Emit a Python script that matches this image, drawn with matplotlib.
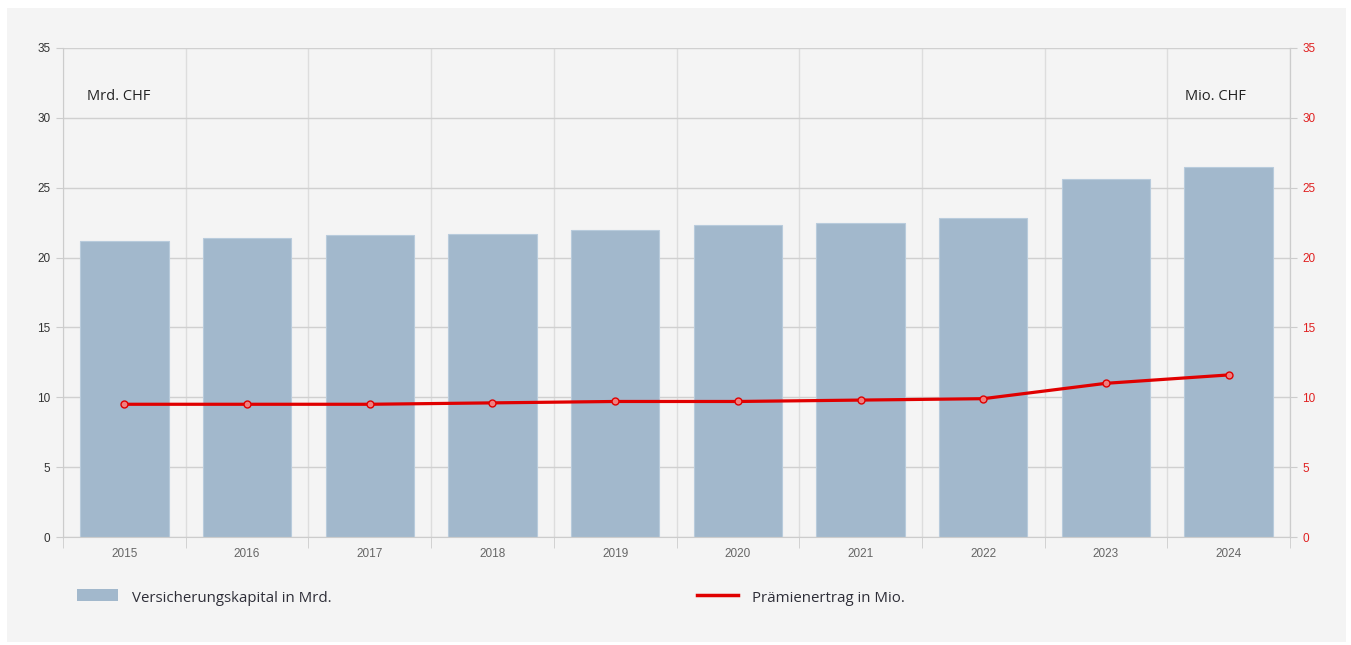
import matplotlib
matplotlib.use("Agg")
import matplotlib.pyplot as plt
from matplotlib.patches import Rectangle
import numpy as np

years = ["2015", "2016", "2017", "2018", "2019", "2020", "2021", "2022", "2023", "2024"]
kapital = [21.2, 21.4, 21.6, 21.7, 22.0, 22.3, 22.5, 22.8, 25.6, 26.5]
praemie = [9.5, 9.5, 9.5, 9.6, 9.7, 9.7, 9.8, 9.9, 11.0, 11.6]
yticks = [0, 5, 10, 15, 20, 25, 30, 35]

BG = "#f4f4f4"
BAR = "#a2b8cc"
RED = "#e00000"
TICKFONT = "Liberation Sans"

fig = plt.figure(figsize=(13.51, 6.45), dpi=100)
fig.patch.set_facecolor("white")
fig.patches.append(Rectangle((7/1351, 3/645), 1339/1351, 634/645, transform=fig.transFigure,
                             facecolor=BG, edgecolor="none", zorder=-10))

ax = fig.add_axes([63/1351, 108/645, 1227/1351, 489/645])
ax.set_facecolor(BG)
x = np.arange(len(years))
ax.bar(x, kapital, width=0.72, color=BAR, edgecolor="#b8cbdc", linewidth=0.8, zorder=2)
ax.set_xlim(-0.5, len(years) - 0.5)
ax.set_ylim(0, 35)
ax.set_yticks(yticks)
ax.set_yticklabels([str(v) for v in yticks], family=TICKFONT)
ax.tick_params(axis="y", length=5, color="#cccccc", labelsize=8.5, labelcolor="#333333", pad=4)
ax.set_xticks(x)
ax.set_xticklabels(years, family=TICKFONT)
ax.tick_params(axis="x", length=0, labelsize=8.5, labelcolor="#666666", pad=8)
ax.set_xticks(np.arange(-0.5, len(years)), minor=True)
ax.tick_params(axis="x", which="minor", length=8, color="#cccccc")
ax.grid(axis="y", color="#d0d0d0", linewidth=1, zorder=0)
ax.grid(axis="x", which="minor", color="#dddddd", linewidth=1, zorder=0)
ax.spines["top"].set_visible(False)
for s in ["left", "right", "bottom"]:
    ax.spines[s].set_color("#cccccc")
ax.set_axisbelow(True)

ax2 = ax.twinx()
ax2.set_ylim(0, 35)
ax2.set_yticks(yticks)
ax2.set_yticklabels([str(v) for v in yticks], family=TICKFONT)
ax2.tick_params(axis="y", length=5, color="#cccccc", labelsize=8.5, labelcolor="#e02020", pad=4)
ax2.spines["top"].set_visible(False)
ax2.spines["right"].set_color("#cccccc")
ax2.spines["left"].set_visible(False)
ax2.spines["bottom"].set_visible(False)
ax2.plot(x, praemie, color=RED, linewidth=2.3, marker="o", markersize=5,
         markerfacecolor="#f08080", markeredgecolor=RED, markeredgewidth=1, zorder=3)

fig.text(87/1351, 1 - 97/645, "Mrd. CHF", fontsize=10.5, color="#222222", va="center", ha="left",
         family="Open Sans")
fig.text(1185/1351, 1 - 97/645, "Mio. CHF", fontsize=10.5, color="#222222", va="center", ha="left",
         family="Open Sans")

# legend
fig.patches.append(Rectangle((77/1351, 1 - 601/645), 41/1351, 12/645, transform=fig.transFigure,
                             facecolor=BAR, edgecolor="none"))
fig.text(132/1351, 1 - 598/645, "Versicherungskapital in Mrd.", fontsize=10.8, color="#2e2e38",
         va="center", ha="left", family="Open Sans")
fig.lines.append(plt.Line2D([697/1351, 738/1351], [1 - 595/645, 1 - 595/645], transform=fig.transFigure,
                            color=RED, linewidth=2.5))
fig.text(752/1351, 1 - 598/645, "Prämienertrag in Mio.", fontsize=10.8, color="#2e2e38",
         va="center", ha="left", family="Open Sans")

fig.savefig("out.png", dpi=100, facecolor=fig.get_facecolor())
